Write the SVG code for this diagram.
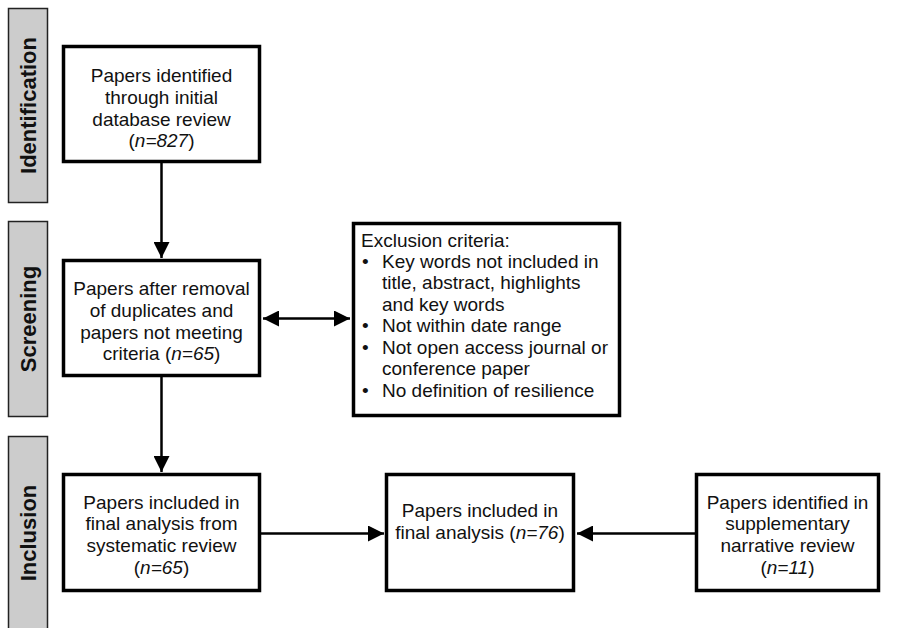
<svg xmlns="http://www.w3.org/2000/svg" width="910" height="628" viewBox="0 0 910 628">
<defs>
<style>
.bar{fill:#cccccc;stroke:#222;stroke-width:1.5}
.bar-t{font-family:"Liberation Sans",Arial,sans-serif;font-size:22px;font-weight:bold;fill:#111;text-anchor:middle}
.box{fill:#fff;stroke:#000;stroke-width:3.5}
.t{font-family:"Liberation Sans",Arial,sans-serif;font-size:19px;fill:#111;text-anchor:middle}
.tl{font-family:"Liberation Sans",Arial,sans-serif;font-size:19px;fill:#111}
.conn{stroke:#000;stroke-width:2.5;fill:none}
</style>
<marker id="ah" markerUnits="userSpaceOnUse" markerWidth="18" markerHeight="16" refX="16" refY="8" orient="auto-start-reverse">
<path d="M0,0 L16,8 L0,16 Z" fill="#000"/>
</marker>
</defs>
<rect width="910" height="628" fill="#fff"/>

<g id="bar-identification">
<rect class="bar" x="8.5" y="8.5" width="39" height="194"/>
<text class="bar-t" transform="translate(35.5,105.5) rotate(-90)">Identification</text>
</g>
<g id="bar-screening">
<rect class="bar" x="8.5" y="221.5" width="39" height="195"/>
<text class="bar-t" transform="translate(35.5,319) rotate(-90)">Screening</text>
</g>
<g id="bar-inclusion">
<rect class="bar" x="8.5" y="436.5" width="39" height="200"/>
<text class="bar-t" transform="translate(35.5,533) rotate(-90)">Inclusion</text>
</g>

<g id="connectors">
<line class="conn" x1="161.5" y1="163" x2="161.5" y2="258" marker-end="url(#ah)"/>
<line class="conn" x1="263" y1="318.5" x2="350" y2="318.5" marker-start="url(#ah)" marker-end="url(#ah)"/>
<line class="conn" x1="161.5" y1="377" x2="161.5" y2="472" marker-end="url(#ah)"/>
<line class="conn" x1="261" y1="533.5" x2="384" y2="533.5" marker-end="url(#ah)"/>
<line class="conn" x1="695" y1="533.5" x2="577" y2="533.5" marker-end="url(#ah)"/>
</g>

<g id="node-identified">
<rect class="box" x="63.5" y="46.5" width="196" height="115"/>
<text class="t" x="161.5" y="82">Papers identified</text>
<text class="t" x="161.5" y="104">through initial</text>
<text class="t" x="161.5" y="125.5">database review</text>
<text class="t" x="161.5" y="147">(<tspan font-style="italic">n=827</tspan>)</text>
</g>

<g id="node-screened">
<rect class="box" x="63.5" y="260.5" width="196" height="115"/>
<text class="t" x="161.5" y="295">Papers after removal</text>
<text class="t" x="161.5" y="317">of duplicates and</text>
<text class="t" x="161.5" y="339">papers not meeting</text>
<text class="t" x="161.5" y="360">criteria (<tspan font-style="italic">n=65</tspan>)</text>
</g>

<g id="node-exclusion">
<rect class="box" x="353.5" y="223.5" width="266" height="192"/>
<text class="tl" x="361" y="247">Exclusion criteria:</text>
<text class="tl" x="362" y="268">•</text>
<text class="tl" x="382" y="268">Key words not included in</text>
<text class="tl" x="382" y="289">title, abstract, highlights</text>
<text class="tl" x="382" y="311">and key words</text>
<text class="tl" x="362" y="332">•</text>
<text class="tl" x="382" y="332">Not within date range</text>
<text class="tl" x="362" y="354">•</text>
<text class="tl" x="382" y="354">Not open access journal or</text>
<text class="tl" x="382" y="375">conference paper</text>
<text class="tl" x="362" y="397">•</text>
<text class="tl" x="382" y="397">No definition of resilience</text>
</g>

<g id="node-systematic">
<rect class="box" x="63.5" y="474.5" width="196" height="116"/>
<text class="t" x="161.5" y="509">Papers included in</text>
<text class="t" x="161.5" y="530">final analysis from</text>
<text class="t" x="161.5" y="552">systematic review</text>
<text class="t" x="161.5" y="574">(<tspan font-style="italic">n=65</tspan>)</text>
</g>

<g id="node-final">
<rect class="box" x="386.5" y="474.5" width="187" height="116"/>
<text class="t" x="480" y="517">Papers included in</text>
<text class="t" x="480" y="539">final analysis (<tspan font-style="italic">n=76</tspan>)</text>
</g>

<g id="node-narrative">
<rect class="box" x="696.5" y="474.5" width="182" height="116"/>
<text class="t" x="787.5" y="509">Papers identified in</text>
<text class="t" x="787.5" y="530">supplementary</text>
<text class="t" x="787.5" y="552">narrative review</text>
<text class="t" x="787.5" y="574">(<tspan font-style="italic">n=11</tspan>)</text>
</g>
</svg>
